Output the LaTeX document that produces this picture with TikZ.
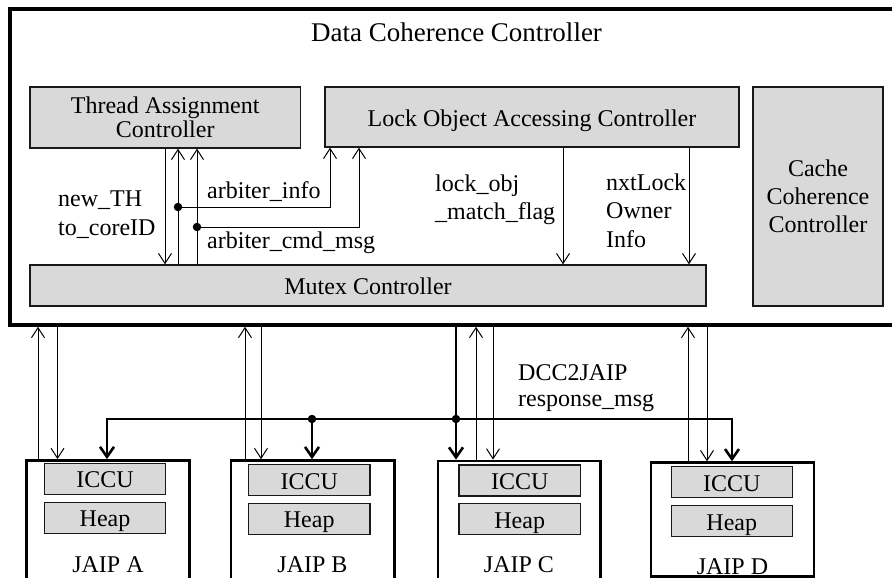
\documentclass[tikz,border=0pt]{standalone}
\usepackage{fontspec}
\setmainfont{Liberation Serif}
\usetikzlibrary{arrows.meta}
\definecolor{boxgray}{RGB}{217,217,217}
\begin{document}
\begin{tikzpicture}[x=1pt,y=-1pt,
  font=\fontsize{24}{28}\selectfont,
  gbox/.style={draw=black!90, line width=1.4pt, fill=boxgray, inner sep=0pt, align=center},
  gbox1/.style={gbox, text height=18pt, text depth=0pt},
  outerbox/.style={draw, line width=3.6pt, inner sep=0pt},
  jaipbox/.style={draw, line width=2.8pt, inner sep=0pt},
  lbl/.style={inner sep=0pt, align=left},
  arr/.style={line width=1pt, -{Straight Barb[length=10pt,width=13pt]}},
  tarr/.style={line width=2.6pt, -{Straight Barb[length=10pt,width=14pt]}},
  tarrboth/.style={line width=2.6pt, {Straight Barb[length=10pt,width=14pt]}-{Straight Barb[length=10pt,width=14pt]}},
  dot/.style={circle, fill, inner sep=0pt, minimum size=8.5pt}
]
\useasboundingbox (0,0) rectangle (892,578);

% Data Coherence Controller
\node[outerbox, minimum width=900pt, minimum height=316pt] (dcc) at (460,167) {};
\node[inner sep=0pt, anchor=base, font=\fontsize{27}{30}\selectfont] (title) at (456.5,41.5) {Data Coherence Controller};

\node[gbox, minimum width=270.5pt, minimum height=61pt, font=\fontsize{24}{24}\selectfont] (tac) at (165.2,117.5) {Thread Assignment\\Controller};
\node[gbox1, minimum width=414pt, minimum height=60pt] (loac) at (532,117) {Lock Object Accessing Controller};
\node[gbox, minimum width=130pt, minimum height=219pt] (cache) at (818,196.5) {Cache\\Coherence\\Controller};
\node[gbox1, minimum width=676pt, minimum height=41pt] (mutex) at (368,285.5) {Mutex Controller};

% JAIP boxes
\node[jaipbox, minimum width=162.8pt, minimum height=159.5pt] (jA) at (108.1,540.25) {};
\node[jaipbox, minimum width=163.5pt, minimum height=159.5pt] (jB) at (312.75,540.35) {};
\node[jaipbox, minimum width=162.7pt, minimum height=159pt] (jC) at (519.35,540.5) {};
\node[jaipbox, minimum width=163pt, minimum height=114pt] (jD) at (732.5,519.7) {};

\node[gbox1, minimum width=121.4pt, minimum height=31pt] (iA) at (105,478.8) {ICCU};
\node[gbox1, minimum width=121.4pt, minimum height=31pt] (hA) at (105,517.8) {Heap};
\node[gbox1, minimum width=121.7pt, minimum height=31pt] (iB) at (309.2,480) {ICCU};
\node[gbox1, minimum width=121.7pt, minimum height=31pt] (hB) at (309.2,518.8) {Heap};
\node[gbox1, minimum width=121.3pt, minimum height=31pt] (iC) at (519.7,480.3) {ICCU};
\node[gbox1, minimum width=121.3pt, minimum height=31pt] (hC) at (519.7,519.2) {Heap};
\node[gbox1, minimum width=121pt, minimum height=31pt] (iD) at (731.8,482.2) {ICCU};
\node[gbox1, minimum width=121pt, minimum height=31pt] (hD) at (731.8,521.2) {Heap};

\node[inner sep=0pt, anchor=base] (lA) at (108,572) {JAIP A};
\node[inner sep=0pt, anchor=base] (lB) at (312.5,572.5) {JAIP B};
\node[inner sep=0pt, anchor=base] (lC) at (519,572.5) {JAIP C};
\node[inner sep=0pt, anchor=base] (lD) at (732.5,574) {JAIP D};

% labels inside DCC
\node[lbl, anchor=north west, font=\fontsize{24}{29}\selectfont] (newth) at (58,190.8) {new\_TH\\to\_coreID};
\node[lbl, anchor=base west] (arbinfo) at (207,198) {arbiter\_info};
\node[lbl, anchor=base west] (arbcmd) at (207,248) {arbiter\_cmd\_msg};
\node[lbl, anchor=north west] (lockobj) at (435,174.3) {lock\_obj\\\_match\_flag};
\node[lbl, anchor=north west, font=\fontsize{24}{28.3}\selectfont] (nxtlock) at (606,173.6) {nxtLock\\Owner\\Info};
\node[lbl, anchor=north west, font=\fontsize{24}{26}\selectfont] (dcc2j) at (518,364.8) {DCC2JAIP\\response\_msg};

% coordinates
\coordinate (xn) at (165,0);
\coordinate (d1) at (178,207);
\coordinate (d2) at (197,227);
\coordinate (e1) at (330,207);
\coordinate (e2) at (359,227);
\coordinate (xm1) at (563,0);
\coordinate (xm2) at (689,0);

% connectors inside DCC
\draw[arr] (tac.south -| xn) -- (mutex.north -| xn);
\draw[arr] (mutex.north -| d1) -- (tac.south -| d1);
\draw[arr] (mutex.north -| d2) -- (tac.south -| d2);
\draw[arr] (d1) -- (e1) -- (loac.south -| e1);
\draw[arr] (d2) -- (e2) -- (loac.south -| e2);
\node[dot] (dot1) at (d1) {};
\node[dot] (dot2) at (d2) {};
\draw[arr] (loac.south -| xm1) -- (mutex.north -| xm1);
\draw[arr] (loac.south -| xm2) -- (mutex.north -| xm2);

% DCC <-> JAIP
\coordinate (au) at (38,0);   \coordinate (ad) at (57.5,0);
\coordinate (bu) at (245,0);  \coordinate (bd) at (261,0);
\coordinate (cu) at (476,0);  \coordinate (cd) at (493,0);
\coordinate (du) at (688,0);  \coordinate (dd) at (707,0);
\draw[arr] (jA.north -| au) -- (dcc.south -| au);
\draw[arr] (dcc.south -| ad) -- (jA.north -| ad);
\draw[arr] (jB.north -| bu) -- (dcc.south -| bu);
\draw[arr] (dcc.south -| bd) -- (jB.north -| bd);
\draw[arr] (jC.north -| cu) -- (dcc.south -| cu);
\draw[arr] (dcc.south -| cd) -- (jC.north -| cd);
\draw[arr] (jD.north -| du) -- (dcc.south -| du);
\draw[arr] (dcc.south -| dd) -- (jD.north -| dd);

% response bus
\coordinate (busA) at (107,419);
\coordinate (busB) at (312,419);
\coordinate (busC) at (456,419);
\coordinate (busD) at (732,419);
\draw[tarrboth] (jA.north -| busA) -- (busA) -- (busD) -- (jD.north -| busD);
\draw[tarr] (busB) -- (jB.north -| busB);
\draw[tarr] (dcc.south -| busC) -- (jC.north -| busC);
\node[dot] (dot3) at (busB) {};
\node[dot] (dot4) at (busC) {};
\end{tikzpicture}
\end{document}
